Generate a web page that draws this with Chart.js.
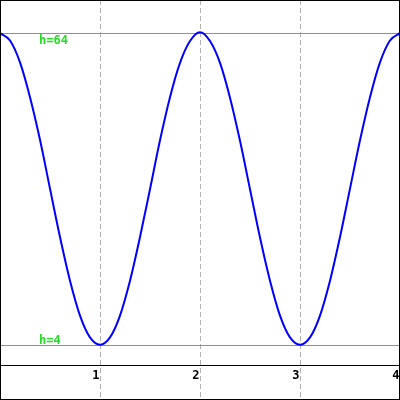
<!DOCTYPE html>
<html>
<head>
<meta charset="utf-8">
<script src="https://cdn.jsdelivr.net/npm/chart.js@4/dist/chart.umd.min.js"></script>
<style>
  html, body { margin: 0; padding: 0; background: #ffffff; }
  canvas { display: block; }
</style>
</head>
<body>
<canvas id="c" width="400" height="400"></canvas>
<script>
// Data
const xValues = [0.0, 0.1, 0.2, 0.3, 0.4, 0.5, 0.6, 0.7, 0.8, 0.9,
                 1.0, 1.1, 1.2, 1.3, 1.4, 1.5, 1.6, 1.7, 1.8, 1.9,
                 2.0, 2.1, 2.2, 2.3, 2.4, 2.5, 2.6, 2.7, 2.8, 2.9,
                 3.0, 3.1, 3.2, 3.3, 3.4, 3.5, 3.6, 3.7, 3.8, 3.9, 4.0];
const hValues = [64.0, 62.6, 58.4, 51.7, 43.5, 34.1, 24.8, 16.4, 9.7, 5.5,
                 4.1, 5.5, 9.7, 16.4, 24.8, 34.0, 43.4, 51.7, 58.3, 62.5,
                 64.2, 62.5, 58.3, 51.6, 43.3, 34.0, 24.7, 16.4, 9.7, 5.5,
                 4.1, 5.5, 9.7, 16.4, 24.8, 34.1, 43.4, 51.7, 58.4, 62.6, 64.0];
const xTickLabels = ["1", "2", "3", "4"];
const xTickValues = [1, 2, 3, 4];
const refLevels = [64, 4];
const refLabels = ["h=64", "h=4"];

const points = xValues.map((x, i) => ({ x: x, y: hValues[i] }));

const GREEN = '#22dd22';

const labelsPlugin = {
  id: 'labels',
  afterDraw(chart) {
    const ctx = chart.ctx;
    const xs = chart.scales.x, ys = chart.scales.y;
    ctx.save();
    ctx.font = 'bold 12px "DejaVu Sans Mono"';
    // x tick labels
    ctx.fillStyle = '#000000';
    ctx.textAlign = 'right';
    ctx.textBaseline = 'alphabetic';
    xTickValues.forEach((v, i) => {
      ctx.fillText(xTickLabels[i], xs.getPixelForValue(v) - 0.5, ys.getPixelForValue(0) + 13);
    });
    // reference level labels
    ctx.fillStyle = GREEN;
    ctx.textAlign = 'left';
    refLevels.forEach((v, i) => {
      const py = ys.getPixelForValue(v);
      const yy = (v === 64) ? py + 11 : py - 1;
      ctx.fillText(refLabels[i], 39, yy);
    });
    // frame
    ctx.strokeStyle = '#000000';
    ctx.lineWidth = 1;
    ctx.strokeRect(0.5, 0.5, 399, 399);
    ctx.restore();
  }
};

new Chart(document.getElementById('c'), {
  type: 'scatter',
  data: {
    datasets: [{
      data: points,
      showLine: true,
      borderColor: '#0000ff',
      borderWidth: 2,
      pointRadius: 0,
      cubicInterpolationMode: 'monotone',
      fill: false
    }]
  },
  options: {
    responsive: false,
    animation: false,
    devicePixelRatio: 1,
    layout: { padding: 0 },
    plugins: { legend: { display: false }, tooltip: { enabled: false } },
    scales: {
      x: {
        type: 'linear',
        min: 0, max: 4,
        ticks: { display: false, stepSize: 1 },
        border: { display: false, dash: [5, 3] },
        grid: {
          drawTicks: false,
          lineWidth: 1,
          color: (c) => (c.tick && (c.tick.value === 0 || c.tick.value === 4)) ? 'rgba(0,0,0,0)' : '#b0b0b0'
        }
      },
      y: {
        type: 'linear',
        min: -6.54, max: 70.38,
        afterBuildTicks: (s) => { s.ticks = [{ value: 0 }, { value: 4 }, { value: 64 }]; },
        ticks: { display: false },
        border: { display: false },
        grid: {
          drawTicks: false,
          lineWidth: 1,
          color: (c) => (c.tick && c.tick.value === 0) ? '#000000' : GREEN
        }
      }
    }
  },
  plugins: [labelsPlugin]
});
</script>
</body>
</html>
